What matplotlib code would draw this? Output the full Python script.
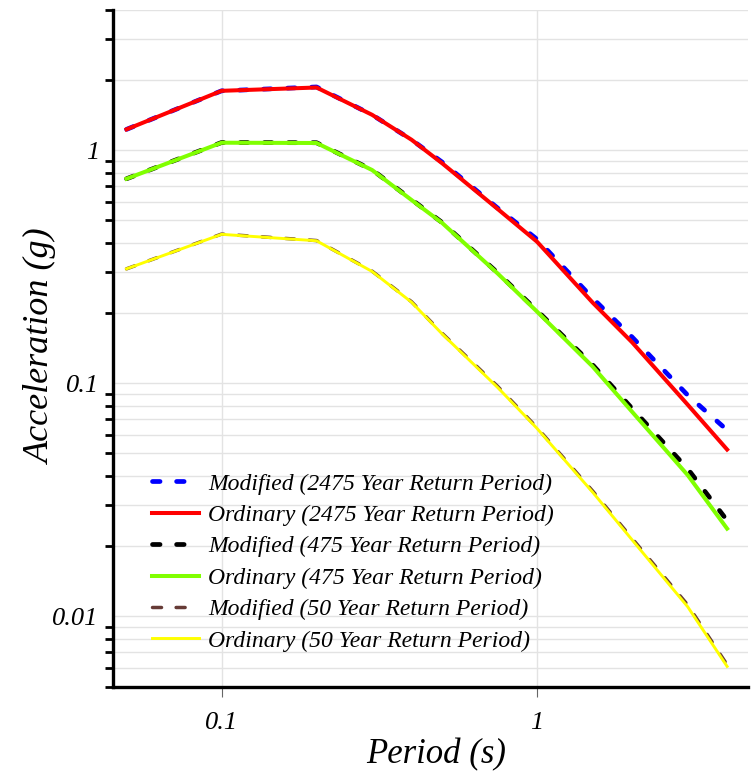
import matplotlib
matplotlib.use("Agg")
import matplotlib.pyplot as plt
from matplotlib.ticker import LogLocator, NullFormatter, NullLocator

# spectral periods (s)
periods = [0.05, 0.1, 0.2, 0.3, 0.4, 0.5, 0.75, 1.0, 1.5, 2.0, 3.0, 4.0]

# spectral accelerations (g)
mod_2475 = [1.23, 1.80, 1.87, 1.42, 1.11, 0.89, 0.565, 0.415, 0.232, 0.158, 0.089, 0.063]
ord_2475 = [1.23, 1.80, 1.86, 1.42, 1.11, 0.88, 0.56, 0.405, 0.222, 0.150, 0.081, 0.052]
mod_475 = [0.755, 1.08, 1.078, 0.825, 0.615, 0.49, 0.298, 0.205, 0.120, 0.078, 0.043, 0.0258]
ord_475 = [0.755, 1.078, 1.075, 0.823, 0.612, 0.488, 0.296, 0.203, 0.118, 0.0755, 0.0404, 0.0238]
mod_50 = [0.31, 0.437, 0.41, 0.303, 0.224, 0.164, 0.097, 0.0645, 0.0345, 0.0216, 0.0112, 0.0062]
ord_50 = [0.31, 0.436, 0.409, 0.302, 0.223, 0.163, 0.096, 0.064, 0.0341, 0.0213, 0.011, 0.0061]

labels = [
    "Modified (2475 Year Return Period)",
    "Ordinary (2475 Year Return Period)",
    "Modified (475 Year Return Period)",
    "Ordinary (475 Year Return Period)",
    "Modified (50 Year Return Period)",
    "Ordinary (50 Year Return Period)",
]

font = dict(family="Liberation Serif", style="italic")

fig = plt.figure(figsize=(7.53, 7.76), dpi=100)
ax = fig.add_axes([0.1497, 0.1153, 0.8433, 0.8718])

ax.plot(periods, mod_2475, color="#0000ff", lw=3.4, ls=(0, (1.6, 3.5)),
        dash_capstyle="round", label=labels[0])
ax.plot(periods, ord_2475, color="#ff0000", lw=2.9, label=labels[1])
ax.plot(periods, mod_475, color="black", lw=3.4, ls=(0, (1.6, 3.5)),
        dash_capstyle="round", label=labels[2])
ax.plot(periods, ord_475, color="#80ff00", lw=2.9, label=labels[3])
ax.plot(periods, mod_50, color="#663b36", lw=2.5, ls=(0, (2.6, 4.2)),
        dash_capstyle="round", label=labels[4])
ax.plot(periods, ord_50, color="#ffff00", lw=2.1, label=labels[5])

ax.set_xscale("log")
ax.set_yscale("log")
ax.set_xlim(0.0452, 4.65)
ax.set_ylim(0.005, 4.0)

ax.set_xticks([0.1, 1])
ax.set_xticklabels(["0.1", "1"], fontdict=font, fontsize=19)
ax.xaxis.set_minor_locator(NullLocator())
ax.set_yticks([0.01, 0.1, 1])
ax.set_yticklabels(["0.01", "0.1", "1"], fontdict=font, fontsize=19)
ax.yaxis.set_minor_locator(LogLocator(base=10, subs=range(2, 10)))
ax.yaxis.set_minor_formatter(NullFormatter())

ax.tick_params(axis="x", which="major", length=7, width=0.8, color="#666666", pad=11)
ax.tick_params(axis="y", which="major", length=0, pad=10)
ax.tick_params(axis="y", which="minor", length=6, width=2, color="black")

ax.grid(True, which="both", axis="y", color="#e3e3e3", lw=1)
ax.grid(True, which="major", axis="x", color="#e3e3e3", lw=1)
ax.set_axisbelow(True)

for s in ["top", "right"]:
    ax.spines[s].set_visible(False)
for s in ["left", "bottom"]:
    ax.spines[s].set_linewidth(2.4)

ax.set_xlabel("Period (s)", fontdict=font, fontsize=25)
ax.set_ylabel("Acceleration (g)", fontdict=font, fontsize=26)
ax.xaxis.set_label_coords(0.51, -0.077)
ax.yaxis.set_label_coords(-0.086, 0.503)

ax.legend(loc="lower left", bbox_to_anchor=(0.028, 0.02), frameon=False,
          prop=dict(family="Liberation Serif", style="italic", size=17),
          handlelength=2.0, handletextpad=0.38, labelspacing=0.42)

fig.savefig("out.png", dpi=100)
